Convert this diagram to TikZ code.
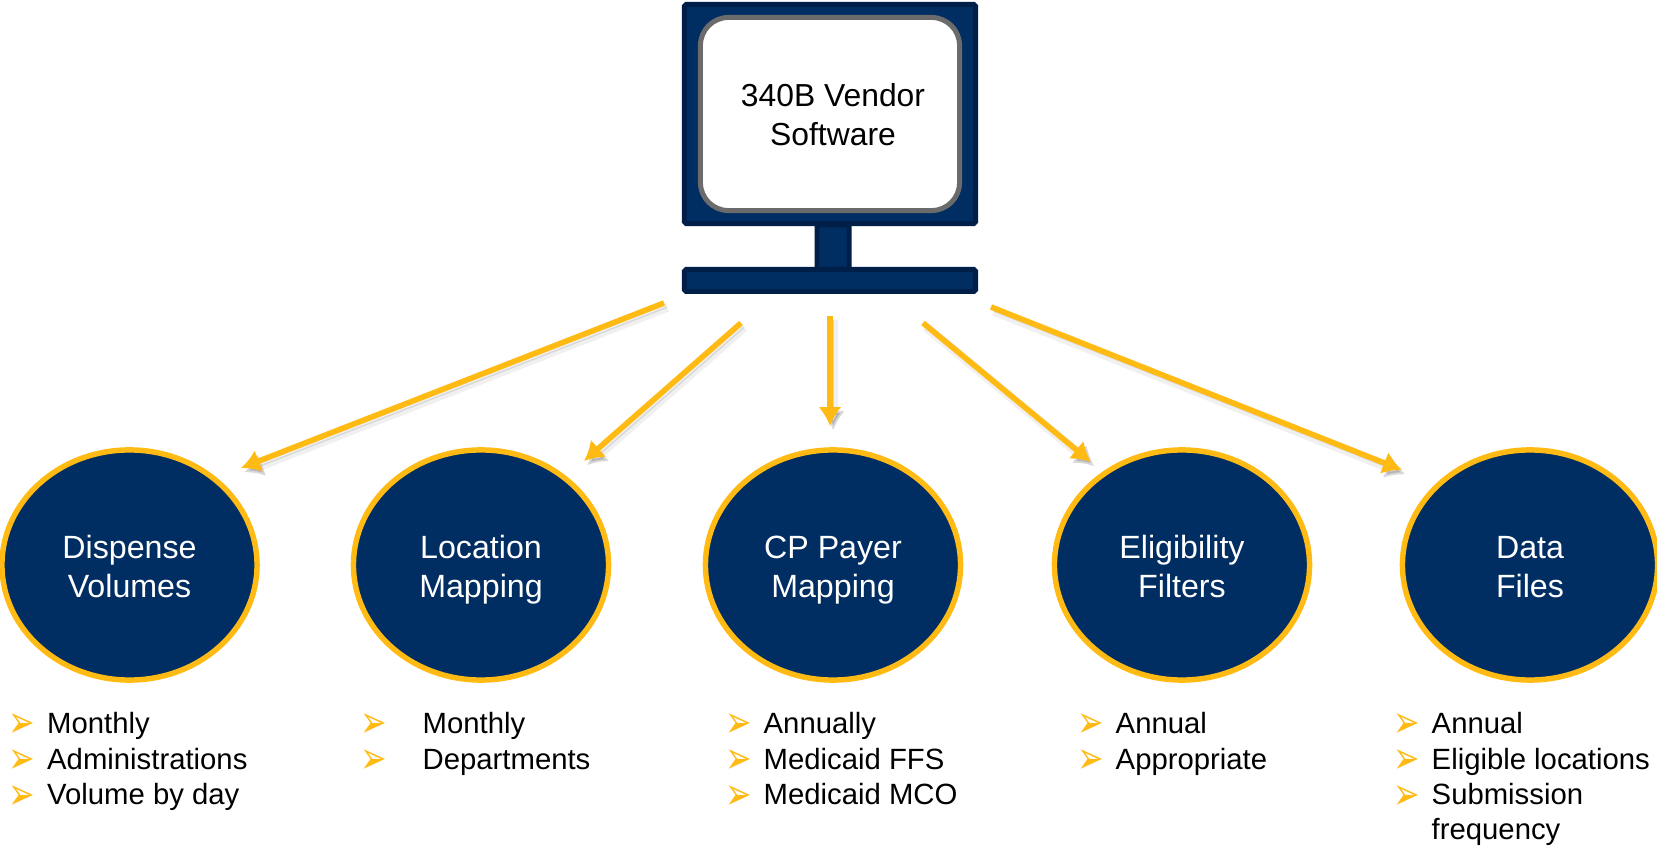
\documentclass[tikz,border=0pt]{standalone}
\usepackage{graphicx}
\usepackage{fontspec}
\setmainfont{Liberation Sans}
\newfontfamily\markfont{DejaVu Sans}
\usetikzlibrary{arrows.meta,shapes.geometric}
\definecolor{navy}{HTML}{002D62}
\definecolor{darknavy}{HTML}{001F48}
\definecolor{gold}{HTML}{FFBA14}
\definecolor{screengray}{HTML}{6B6B6B}
\newcommand{\bulletmark}{\raisebox{-1.3pt}{\scalebox{1.2}[1.7]{➢}}}
\newcommand{\topiclabel}[2]{\rule{0pt}{10.8pt}#1\\\strut #2}
\tikzset{
	topic/.style={ellipse,draw=gold,fill=navy,line width=1.55pt,minimum width=2.55cm,minimum height=2.30cm,inner sep=0pt,text=white,align=center,font=\fontsize{9.15}{11.1}\selectfont},
	part/.style={rectangle,draw=darknavy,fill=navy,line width=1.42pt,rounded corners=0.5pt,inner sep=0pt},
	flow/.style={draw=gold,line width=1.6pt,-{Latex[length=5.4pt,width=6.6pt]},
		preaction={draw=black,opacity=.06,line width=2.6pt,transform canvas={xshift=0.9pt,yshift=-1.2pt}},
		preaction={draw=black,opacity=.10,transform canvas={xshift=0.9pt,yshift=-1.2pt}}},
	listitem/.style={anchor=base west,inner sep=0pt,font=\fontsize{8.33}{10.2}\selectfont},
	listmark/.style={anchor=base,inner sep=0pt,text=gold,font=\markfont\fontsize{7.5}{9}\selectfont}
}
\begin{document}
\begin{tikzpicture}[x=0.01cm,y=-0.01cm]
		\useasboundingbox (0,0) rectangle (1657,846);
		% monitor
		\node[part,minimum width=2.91cm,minimum height=2.19cm] (frame) at (830,114) {};
		\node[part,minimum width=0.32cm,minimum height=0.46cm] (neck) at (833,248) {};
		\node[part,minimum width=2.91cm,minimum height=0.22cm] (base) at (830,280.5) {};
		\node[rectangle,draw=screengray,fill=white,line width=1.42pt,rounded corners=0.28cm,minimum width=2.59cm,minimum height=1.93cm] (screen) at (830,114) {};
		\node[inner sep=0pt,align=center,font=\fontsize{9.05}{11.1}\selectfont] (screentext) at (833,115) {340B Vendor\\Software};
		% topics
		\node[topic] (dispense) at (129.5,565) {\topiclabel{Dispense}{Volumes}};
		\node[topic] (location) at (481,565) {\topiclabel{Location}{Mapping}};
		\node[topic] (payer) at (833,565) {\topiclabel{CP Payer}{Mapping}};
		\node[topic] (filters) at (1182,565) {\topiclabel{Eligibility}{Filters}};
		\node[topic] (files) at (1530,565) {\topiclabel{Data}{Files}};
		% arrows
		\coordinate (out1) at (664,303);
		\coordinate (out2) at (741,323);
		\coordinate (out3) at (830,316);
		\coordinate (out4) at (923,323);
		\coordinate (out5) at (991,307);
		\coordinate (in1) at (241,468);
		\coordinate (in2) at (584,461);
		\coordinate (in3) at (830,426);
		\coordinate (in4) at (1091,462);
		\coordinate (in5) at (1402,470);
		\draw[flow] (out1) -- (in1);
		\draw[flow] (out2) -- (in2);
		\draw[flow] (out3) -- (in3);
		\draw[flow] (out4) -- (in4);
		\draw[flow] (out5) -- (in5);
		% lists
		\node[listmark] (m11) at (22,733) {\bulletmark};
		\node[listmark] (m12) at (22,769) {\bulletmark};
		\node[listmark] (m13) at (22,804.5) {\bulletmark};
		\node[listitem] (i11) at (46.5,733) {Monthly};
		\node[listitem] (i12) at (46.5,769) {Administrations};
		\node[listitem] (i13) at (46.5,804.5) {Volume by day};
		\node[listmark] (m21) at (374,733) {\bulletmark};
		\node[listmark] (m22) at (374,769) {\bulletmark};
		\node[listitem] (i21) at (422,733) {Monthly};
		\node[listitem] (i22) at (422,769) {Departments};
		\node[listmark] (m31) at (739,733) {\bulletmark};
		\node[listmark] (m32) at (739,769) {\bulletmark};
		\node[listmark] (m33) at (739,804.5) {\bulletmark};
		\node[listitem] (i31) at (763,733) {Annually};
		\node[listitem] (i32) at (763,769) {Medicaid FFS};
		\node[listitem] (i33) at (763,804.5) {Medicaid MCO};
		\node[listmark] (m41) at (1091,733) {\bulletmark};
		\node[listmark] (m42) at (1091,769) {\bulletmark};
		\node[listitem] (i41) at (1115,733) {Annual};
		\node[listitem] (i42) at (1115,769) {Appropriate};
		\node[listmark] (m51) at (1407,733) {\bulletmark};
		\node[listmark] (m52) at (1407,769) {\bulletmark};
		\node[listmark] (m53) at (1407,804.5) {\bulletmark};
		\node[listitem] (i51) at (1431,733) {Annual};
		\node[listitem] (i52) at (1431,769) {Eligible locations};
		\node[listitem] (i53) at (1431,804.5) {Submission};
		\node[listitem] (i54) at (1431,839) {frequency};
	\end{tikzpicture}
\end{document}
